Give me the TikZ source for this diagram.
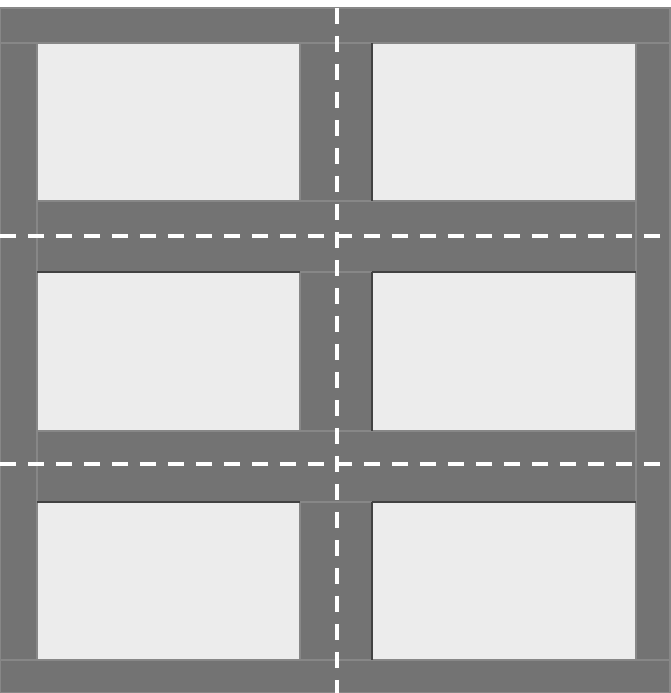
\documentclass[tikz,border=0pt]{standalone}
\usepackage{tikz}
\usepackage{xcolor}
\usetikzlibrary{calc}

\definecolor{bargray}{HTML}{737373}
\definecolor{edgelight}{HTML}{878787}
\definecolor{edgedark}{HTML}{424242}
\definecolor{panelgray}{HTML}{ECECEC}

\begin{document}
\begin{tikzpicture}[x=0.02cm, y=-0.02cm,
  bar/.style={fill=bargray, draw=edgelight, line width=0.04cm},
  shadow/.style={draw=edgedark, line width=0.04cm},
  cutline/.style={white, line width=0.08cm, dash pattern=on 0.32cm off 0.24cm}]
  \useasboundingbox (0,0) rectangle (670,693);
  % Panels
  \fill[panelgray] (0,8) rectangle (670,693);
  % Outer frame
  \draw[bar] (0,43) rectangle (37,660);
  \draw[bar] (636,43) rectangle (670,660);
  \draw[bar] (0,8) rectangle (670,43);
  \draw[bar] (0,660) rectangle (670,693);
  % Cross bars between rows
  \foreach \ya/\yb in {201/272, 431/502}{
    \draw[bar] (37,\ya) rectangle (636,\yb);
  }
  % Posts between columns
  \foreach \ya/\yb in {43/201, 272/431, 502/660}{
    \draw[bar] (300,\ya) rectangle (372,\yb);
    \draw[shadow] (372,\ya) -- (372,\yb);
  }
  % Shadows under cross bars
  \foreach \y in {272, 502}{
    \draw[shadow] (37,\y) -- (300,\y);
    \draw[shadow] (372,\y) -- (636,\y);
  }
  % Cut lines
  \draw[cutline] (337,8) -- (337,693);
  \foreach \y in {236, 464}{
    \draw[cutline] (0,\y) -- (670,\y);
  }
\end{tikzpicture}
\end{document}
